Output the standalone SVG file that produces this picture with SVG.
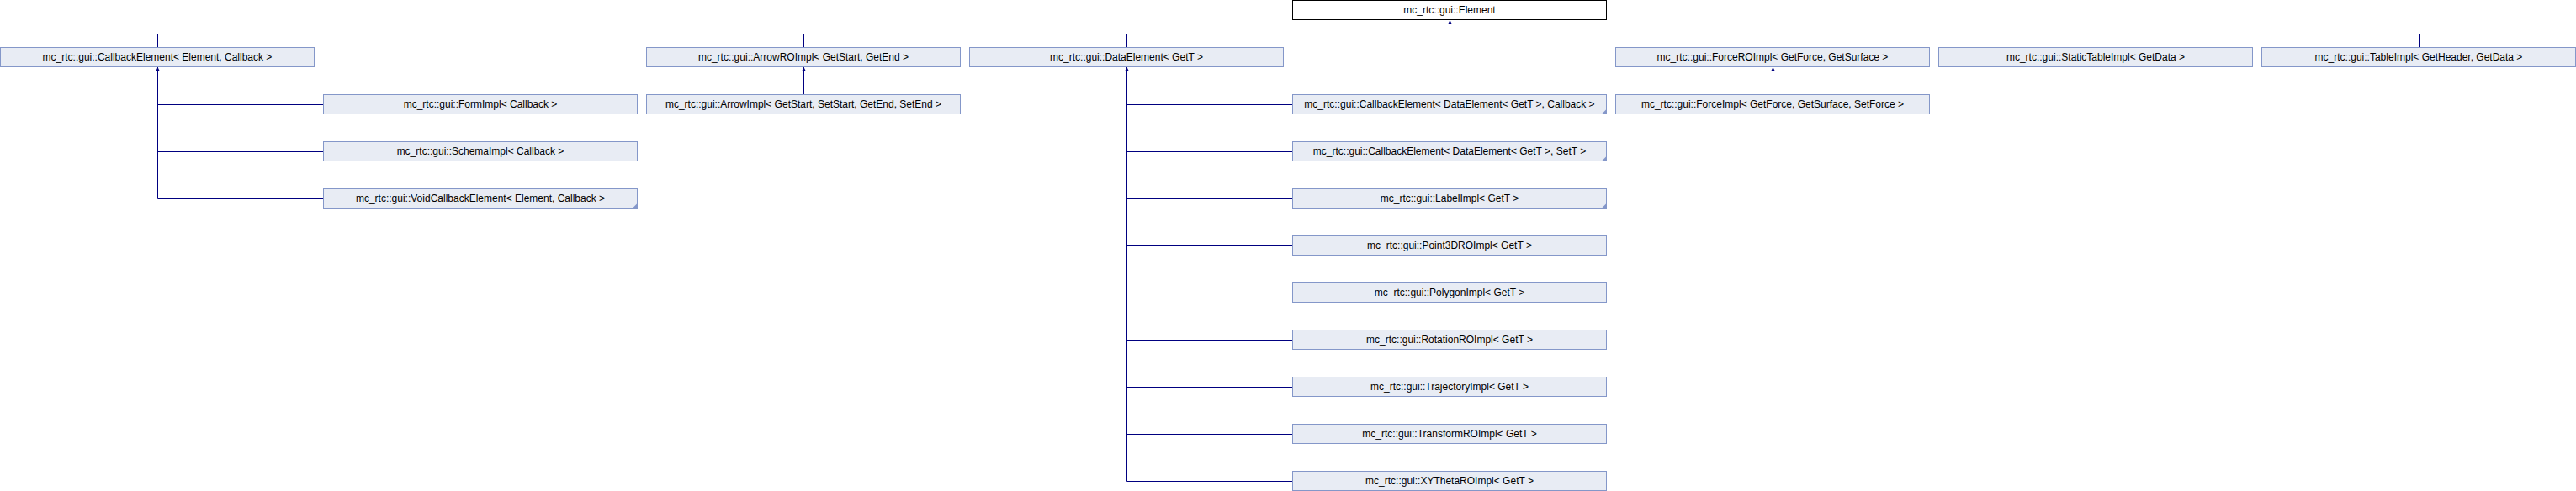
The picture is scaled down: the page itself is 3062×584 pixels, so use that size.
<svg xmlns="http://www.w3.org/2000/svg" width="3062" height="584" viewBox="0 0 3062 584">
<style>
.n rect{fill:#E8ECF4;stroke:#8497C9;stroke-width:1}
.root rect{fill:#FFFFFF;stroke:#000000;stroke-width:1}
.n text,.root text{font-family:"Liberation Sans",Arial,sans-serif;font-size:12px;fill:#000;text-anchor:middle}
.c{stroke:#000080;stroke-width:1;fill:none}
.a{marker-start:url(#arr)}
.mark{fill:#8497C9}
</style>
<defs>
<marker id="arr" viewBox="0 0 6 6" refX="6" refY="3" markerWidth="6" markerHeight="5" markerUnits="userSpaceOnUse" orient="auto-start-reverse">
<path d="M0,0 L6,3 L0,6 z" fill="#000080"/>
</marker>
</defs>
<g id="connectors">
<path class="c" d="M187.5,40.5 H2875.5"/>
<path class="c a" d="M1723.5,24 V40.5"/>
<path class="c" d="M187.5,40.5 V56.5 M955.5,40.5 V56.5 M1339.5,40.5 V56.5 M2107.5,40.5 V56.5 M2491.5,40.5 V56.5 M2875.5,40.5 V56.5"/>
<path class="c a" d="M187.5,80 V236.5"/>
<path class="c" d="M187.5,124.5 H384.5 M187.5,180.5 H384.5 M187.5,236.5 H384.5"/>
<path class="c a" d="M955.5,80 V112.5"/>
<path class="c a" d="M1339.5,80 V572.5"/>
<path class="c" d="M1339.5,124.5 H1536.5 M1339.5,180.5 H1536.5 M1339.5,236.5 H1536.5 M1339.5,292.5 H1536.5 M1339.5,348.5 H1536.5 M1339.5,404.5 H1536.5 M1339.5,460.5 H1536.5 M1339.5,516.5 H1536.5 M1339.5,572.5 H1536.5"/>
<path class="c a" d="M2107.5,80 V112.5"/>
</g>
<g id="Element" class="root"><rect x="1536.5" y="0.5" width="373" height="23"/><text x="1723" y="16">mc_rtc::gui::Element</text></g>
<g id="CallbackElement_Element" class="n"><rect x="0.5" y="56.5" width="373" height="23"/><text x="187" y="72">mc_rtc::gui::CallbackElement&lt; Element, Callback &gt;</text></g>
<g id="ArrowROImpl" class="n"><rect x="768.5" y="56.5" width="373" height="23"/><text x="955" y="72">mc_rtc::gui::ArrowROImpl&lt; GetStart, GetEnd &gt;</text></g>
<g id="DataElement" class="n"><rect x="1152.5" y="56.5" width="373" height="23"/><text x="1339" y="72">mc_rtc::gui::DataElement&lt; GetT &gt;</text></g>
<g id="ForceROImpl" class="n"><rect x="1920.5" y="56.5" width="373" height="23"/><text x="2107" y="72">mc_rtc::gui::ForceROImpl&lt; GetForce, GetSurface &gt;</text></g>
<g id="StaticTableImpl" class="n"><rect x="2304.5" y="56.5" width="373" height="23"/><text x="2491" y="72">mc_rtc::gui::StaticTableImpl&lt; GetData &gt;</text></g>
<g id="TableImpl" class="n"><rect x="2688.5" y="56.5" width="373" height="23"/><text x="2875" y="72">mc_rtc::gui::TableImpl&lt; GetHeader, GetData &gt;</text></g>
<g id="FormImpl" class="n"><rect x="384.5" y="112.5" width="373" height="23"/><text x="571" y="128">mc_rtc::gui::FormImpl&lt; Callback &gt;</text></g>
<g id="SchemaImpl" class="n"><rect x="384.5" y="168.5" width="373" height="23"/><text x="571" y="184">mc_rtc::gui::SchemaImpl&lt; Callback &gt;</text></g>
<g id="VoidCallbackElement" class="n"><rect x="384.5" y="224.5" width="373" height="23"/><text x="571" y="240">mc_rtc::gui::VoidCallbackElement&lt; Element, Callback &gt;</text><path class="mark" d="M757.5,242 V247.5 H752 z"/></g>
<g id="ArrowImpl" class="n"><rect x="768.5" y="112.5" width="373" height="23"/><text x="955" y="128">mc_rtc::gui::ArrowImpl&lt; GetStart, SetStart, GetEnd, SetEnd &gt;</text></g>
<g id="ForceImpl" class="n"><rect x="1920.5" y="112.5" width="373" height="23"/><text x="2107" y="128">mc_rtc::gui::ForceImpl&lt; GetForce, GetSurface, SetForce &gt;</text></g>
<g id="CallbackElement_DataElement_Callback" class="n"><rect x="1536.5" y="112.5" width="373" height="23"/><text x="1723" y="128">mc_rtc::gui::CallbackElement&lt; DataElement&lt; GetT &gt;, Callback &gt;</text><path class="mark" d="M1909.5,130 V135.5 H1904 z"/></g>
<g id="CallbackElement_DataElement_SetT" class="n"><rect x="1536.5" y="168.5" width="373" height="23"/><text x="1723" y="184">mc_rtc::gui::CallbackElement&lt; DataElement&lt; GetT &gt;, SetT &gt;</text><path class="mark" d="M1909.5,186 V191.5 H1904 z"/></g>
<g id="LabelImpl" class="n"><rect x="1536.5" y="224.5" width="373" height="23"/><text x="1723" y="240">mc_rtc::gui::LabelImpl&lt; GetT &gt;</text><path class="mark" d="M1909.5,242 V247.5 H1904 z"/></g>
<g id="Point3DROImpl" class="n"><rect x="1536.5" y="280.5" width="373" height="23"/><text x="1723" y="296">mc_rtc::gui::Point3DROImpl&lt; GetT &gt;</text></g>
<g id="PolygonImpl" class="n"><rect x="1536.5" y="336.5" width="373" height="23"/><text x="1723" y="352">mc_rtc::gui::PolygonImpl&lt; GetT &gt;</text></g>
<g id="RotationROImpl" class="n"><rect x="1536.5" y="392.5" width="373" height="23"/><text x="1723" y="408">mc_rtc::gui::RotationROImpl&lt; GetT &gt;</text></g>
<g id="TrajectoryImpl" class="n"><rect x="1536.5" y="448.5" width="373" height="23"/><text x="1723" y="464">mc_rtc::gui::TrajectoryImpl&lt; GetT &gt;</text></g>
<g id="TransformROImpl" class="n"><rect x="1536.5" y="504.5" width="373" height="23"/><text x="1723" y="520">mc_rtc::gui::TransformROImpl&lt; GetT &gt;</text></g>
<g id="XYThetaROImpl" class="n"><rect x="1536.5" y="560.5" width="373" height="23"/><text x="1723" y="576">mc_rtc::gui::XYThetaROImpl&lt; GetT &gt;</text></g>
</svg>
